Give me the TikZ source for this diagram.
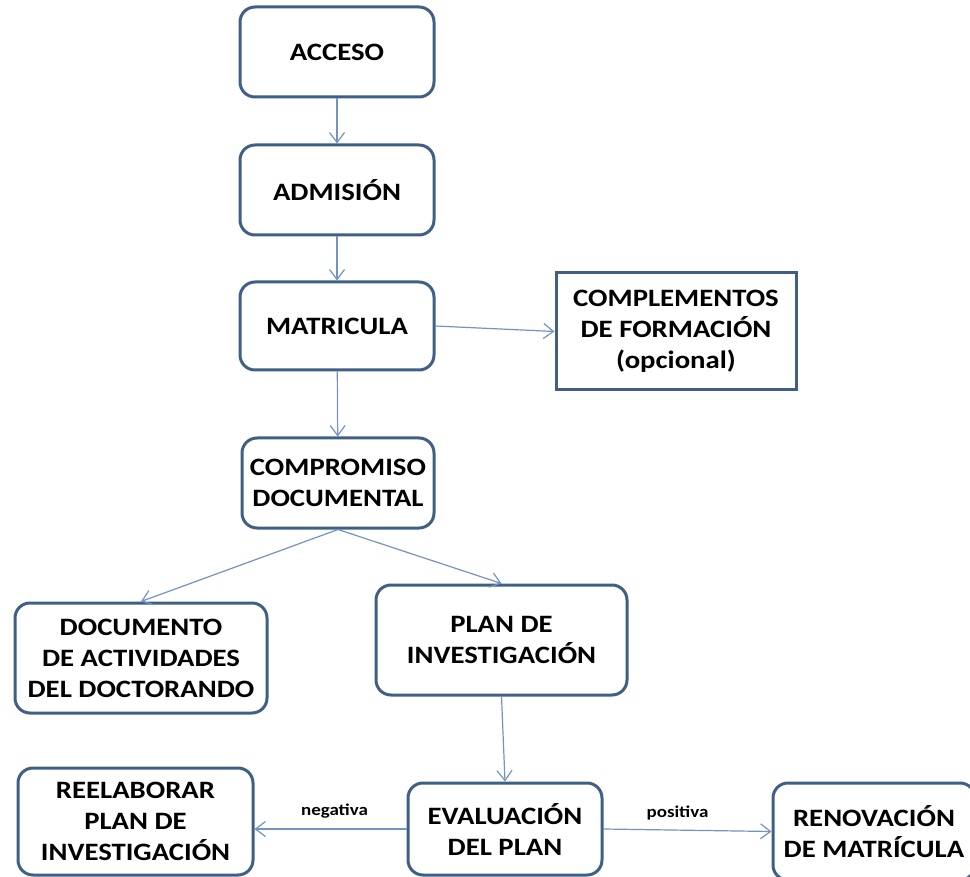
\documentclass[tikz,border=0pt]{standalone}
\usepackage{fontspec}
\setmainfont{Carlito}[FakeStretch=1.15]
\usetikzlibrary{arrows.meta}
\definecolor{boxBorder}{HTML}{3F5F85}
\definecolor{flowLine}{HTML}{7393C3}
\begin{document}
\begin{tikzpicture}[x=1pt,y=-1pt,
    stepBox/.style={draw=boxBorder, line width=3pt, rounded corners=15pt, fill=white,
        align=center, inner sep=0pt, font=\fontsize{25}{31}\selectfont\bfseries},
    plainBox/.style={stepBox, rounded corners=0pt},
    flow/.style={draw=flowLine, line width=1.2pt, -{Straight Barb[length=10pt,width=15pt]}},
    outcome/.style={font=\fontsize{16.5}{18}\selectfont\bfseries, inner sep=2pt}]
    \useasboundingbox (0,0) rectangle (970,877);

    \node[stepBox, minimum width=194pt, minimum height=90pt] (acceso) at (337,52) {ACCESO};
    \node[stepBox, minimum width=194pt, minimum height=90pt] (admision) at (337,190) {ADMISIÓN};
    \node[stepBox, minimum width=194pt, minimum height=88pt] (matricula) at (337,326) {MATRICULA};
    \node[plainBox, minimum width=240pt, minimum height=117pt] (complementos) at (676,331.5) {COMPLEMENTOS\\DE FORMACIÓN\\(opcional)};
    \node[stepBox, minimum width=192pt, minimum height=90pt] (compromiso) at (338,483) {COMPROMISO\\DOCUMENTAL};
    \node[stepBox, minimum width=252pt, minimum height=110pt] (documento) at (141,658) {DOCUMENTO\\DE ACTIVIDADES\\DEL DOCTORANDO};
    \node[stepBox, minimum width=251pt, minimum height=110pt] (plan) at (501.5,640) {PLAN DE\\INVESTIGACIÓN};
    \node[stepBox, minimum width=235pt, minimum height=107pt] (reelaborar) at (135.5,821.5) {REELABORAR\\PLAN DE\\INVESTIGACIÓN};
    \node[stepBox, minimum width=194pt, minimum height=92pt] (evaluacion) at (505,829) {EVALUACIÓN\\DEL PLAN};
    \node[stepBox, minimum width=202pt, minimum height=97pt] (renovacion) at (874,831.5) {RENOVACIÓN\\DE MATRÍCULA};

    \draw[flow] (acceso) -- (admision);
    \draw[flow] (admision) -- (matricula);
    \draw[flow] (matricula.east) -- (complementos.west);
    \draw[flow] (matricula) -- (compromiso);
    \draw[flow] (compromiso.south) -- (documento.north);
    \draw[flow] (compromiso.south) -- (plan.north);
    \draw[flow] (plan.south) -- (evaluacion.north);
    \draw[flow] (evaluacion.west) -- node[outcome, above=8pt, xshift=4pt] {negativa} (evaluacion.west -| reelaborar.east);
    \draw[flow] (evaluacion.east) -- node[outcome, above=8pt, xshift=-10pt] {positiva} (renovacion.west);
\end{tikzpicture}
\end{document}
